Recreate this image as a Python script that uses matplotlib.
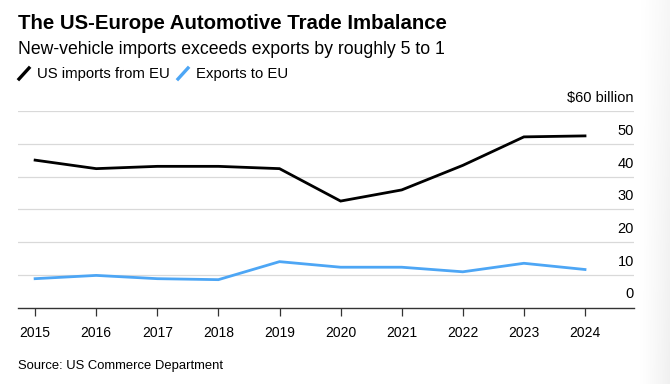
import numpy as np
import matplotlib.pyplot as plt
from matplotlib.lines import Line2D
import matplotlib.transforms as mtransforms

plt.rcParams['font.family'] = ['Liberation Sans', 'DejaVu Sans']

years = [2015, 2016, 2017, 2018, 2019, 2020, 2021, 2022, 2023, 2024]
imports_from_eu = [45.0, 42.4, 43.1, 43.1, 42.4, 32.5, 35.9, 43.4, 52.1, 52.4]
exports_to_eu = [8.8, 9.8, 8.8, 8.5, 14.0, 12.3, 12.3, 10.9, 13.5, 11.6]
y_ticks = [0, 10, 20, 30, 40, 50, 60]
y_labels = ["0", "10", "20", "30", "40", "50", "$60 billion"]

black = "#000000"
blue = "#4da6f5"

W, H = 670, 384
fig = plt.figure(figsize=(W / 100, H / 100), dpi=100)
fig.patch.set_facecolor("white")

# right edge shadow
sh = fig.add_axes([638 / W, 0, 32 / W, 1])
gx = np.linspace(0, 1, 64)[None, :] ** 1.3
gy = np.linspace(0.6, 1, 100)[:, None]
sh.imshow(gx * gy, aspect="auto", cmap="Greys", vmin=0, vmax=8, extent=[0, 1, 0, 1])
sh.axis("off")

ax = fig.add_axes([18 / W, 1 - 307.5 / H, (634 - 18) / W, (307.5 - 111) / H])
ax.set_facecolor("none")

ax.plot(years, imports_from_eu, color=black, lw=2.0, solid_joinstyle="miter", zorder=3)
ax.plot(years, exports_to_eu, color=blue, lw=2.0, solid_joinstyle="miter", zorder=3)

ax.set_xlim(2014.72, 2024 + 49 / 61.1)
ax.set_ylim(0, 60)

for v in y_ticks[1:]:
    ax.axhline(v, color="#d9d9d9", lw=0.9, zorder=1)

for s in ["top", "right", "left"]:
    ax.spines[s].set_visible(False)
ax.spines["bottom"].set_color("#333333")
ax.spines["bottom"].set_linewidth(1.0)

ax.set_yticks([])
ax.set_xticks(years)
ax.set_xticklabels([str(y) for y in years], fontsize=10)
ax.tick_params(axis="x", length=5.5, width=0.9, color="#333333", pad=8)

trans = mtransforms.blended_transform_factory(ax.transAxes, ax.transData)
off = mtransforms.offset_copy(trans, fig=fig, x=0, y=9, units="dots")
for v, lab in zip(y_ticks, y_labels):
    ax.text(1.0, v, lab, transform=off, ha="right", va="baseline", fontsize=10.5)

fig.text(18 / W, 1 - 29.3 / H, "The US-Europe Automotive Trade Imbalance",
         fontsize=14.7, fontweight="bold", va="baseline", ha="left")
fig.text(18 / W, 1 - 54.3 / H, "New-vehicle imports exceeds exports by roughly 5 to 1",
         fontsize=12.7, va="baseline", ha="left")

# legend
def legend_item(x, color, label):
    fig.add_artist(Line2D([(x + 1) / W, (x + 11) / W], [1 - 79 / H, 1 - 68 / H],
                          color=color, lw=2.4, transform=fig.transFigure))
    fig.text((x + 19) / W, 1 - 78.3 / H, label, fontsize=10.7, va="baseline", ha="left")

legend_item(18, black, "US imports from EU")
legend_item(177, blue, "Exports to EU")

fig.text(18 / W, 1 - 369.3 / H, "Source: US Commerce Department",
         fontsize=9.4, va="baseline", ha="left")

fig.savefig("out.png", dpi=100, facecolor="white")
